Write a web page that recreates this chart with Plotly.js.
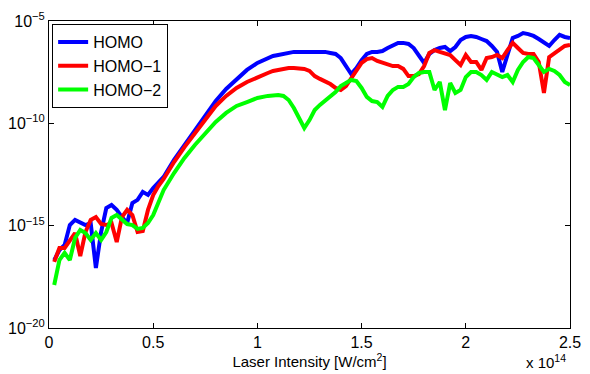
<!DOCTYPE html>
<html>
<head>
<meta charset="utf-8">
<script src="https://cdn.plot.ly/plotly-3.0.1.min.js"></script>
<style>html,body{margin:0;padding:0;background:#fff;}#chart{width:590px;height:374px;}</style>
</head>
<body>
<div id="chart"></div>
<script>
// Laser intensity in units of 1e14 W/cm^2
var intensity = [0.025,0.05,0.075,0.1,0.125,0.15,0.175,0.2,0.225,0.25,0.275,0.3,0.325,0.35,0.375,0.4,0.425,0.45,0.475,0.5,0.525,0.55,
  0.6,0.65,0.7,0.75,0.8,0.85,0.9,0.95,1.0,1.05,
  1.075,1.1,1.125,1.15,1.175,1.2,1.225,1.25,1.275,1.3,1.325,1.35,1.375,1.4,1.425,1.45,1.475,1.5,1.525,1.55,1.575,1.6,1.625,1.65,1.675,1.7,1.725,1.75,1.775,1.8,1.825,1.85,1.875,1.9,1.925,1.95,1.975,2.0,2.025,2.05,2.075,2.1,2.125,2.15,2.175,2.2,2.225,2.25,2.275,2.3,2.325,2.35,2.375,2.4,2.425,2.45,2.475,2.5];

// log10 of ionization yield
var logHOMO = [-16.68,-16.19,-15.94,-14.97,-14.72,-14.87,-14.97,-14.87,-17.07,-15.31,-14.14,-13.99,-14.23,-14.58,-14.87,-13.89,-13.74,-13.35,-13.50,-13.16,-12.87,-12.62,
  -11.79,-11.06,-10.32,-9.64,-8.91,-8.32,-7.83,-7.39,-7.05,-6.81,
  -6.71,-6.66,-6.61,-6.56,-6.51,-6.51,-6.51,-6.51,-6.51,-6.51,-6.51,-6.56,-6.61,-6.81,-7.20,-7.59,-7.30,-6.91,-6.61,-6.51,-6.51,-6.47,-6.32,-6.17,-6.07,-6.07,-6.12,-6.32,-6.71,-7.05,-6.61,-6.42,-6.32,-6.27,-6.47,-6.27,-5.93,-5.78,-5.73,-5.78,-5.88,-5.98,-6.22,-6.51,-7.49,-6.66,-5.83,-5.73,-5.59,-5.64,-5.73,-5.88,-6.07,-6.22,-5.93,-5.68,-5.78,-5.83];

var logHOMO1 = [-16.77,-16.09,-16.09,-15.70,-15.36,-16.48,-15.31,-14.72,-14.58,-14.92,-14.97,-14.87,-15.80,-14.58,-14.23,-14.48,-15.31,-15.26,-14.23,-13.50,-13.06,-12.72,
  -11.89,-11.16,-10.47,-9.84,-9.15,-8.66,-8.27,-7.98,-7.74,-7.54,
  -7.44,-7.39,-7.34,-7.30,-7.30,-7.30,-7.34,-7.44,-7.69,-7.83,-7.93,-8.08,-8.27,-8.37,-8.18,-7.78,-7.39,-7.05,-6.86,-6.81,-6.95,-7.05,-7.15,-7.20,-7.20,-7.34,-7.69,-7.69,-7.59,-7.20,-6.56,-6.42,-6.51,-6.56,-6.66,-6.91,-7.15,-6.66,-7.00,-7.00,-7.39,-6.81,-6.76,-6.66,-6.81,-6.42,-6.07,-6.32,-6.56,-6.61,-6.61,-7.00,-8.52,-6.76,-6.56,-6.37,-6.22,-6.17];

var logHOMO2 = [-17.90,-16.68,-16.33,-16.68,-15.60,-15.21,-15.36,-15.70,-15.36,-15.70,-15.31,-14.62,-14.48,-14.72,-14.92,-14.97,-15.16,-15.11,-14.87,-14.48,-13.89,-13.26,
  -12.43,-11.69,-11.06,-10.47,-9.93,-9.49,-9.15,-8.96,-8.76,-8.66,
  -8.62,-8.62,-8.66,-8.86,-9.25,-9.74,-10.23,-9.84,-9.35,-9.10,-8.91,-8.71,-8.47,-8.18,-8.03,-7.88,-7.93,-8.27,-8.71,-8.91,-8.96,-9.20,-8.66,-8.37,-8.22,-8.22,-8.08,-7.74,-7.54,-7.49,-7.49,-8.37,-7.98,-9.35,-8.03,-8.52,-8.37,-7.74,-7.49,-7.49,-7.64,-7.88,-7.49,-7.64,-7.74,-7.64,-7.98,-7.39,-7.00,-6.76,-6.81,-7.15,-7.49,-7.34,-7.44,-7.64,-7.98,-8.13];

var seriesNames = ['HOMO','HOMO\u22121','HOMO\u22122'];
var seriesColors = ['#0000ff','#ff0000','#00ff00'];
var seriesLogs = [logHOMO, logHOMO1, logHOMO2];

var xTickVals = [0,0.5,1,1.5,2,2.5];
var xTickText = ['0','0.5','1','1.5','2','2.5'];
var yTickVals = [1e-20,1e-15,1e-10,1e-5];
var yTickText = ['10<sup>\u221220</sup>','10<sup>\u221215</sup>','10<sup>\u221210</sup>','10<sup>\u22125</sup>'];

var traces = seriesNames.map(function(name,i){
  return {
    x: intensity,
    y: seriesLogs[i].map(function(v){return Math.pow(10,v);}),
    type:'scatter', mode:'lines', name:name,
    line:{color:seriesColors[i], width:4}
  };
});

var fam = 'Liberation Sans, Arial, sans-serif';
var tickFont = {family:fam, size:16, color:'#000'};
var textFont = {family:fam, size:15, color:'#000'};
var layout = {
  width:590, height:374,
  margin:{l:49, r:20, t:21, b:46},
  paper_bgcolor:'#fff', plot_bgcolor:'#fff',
  font:textFont,
  showlegend:true,
  legend:{x:0.006, y:0.99, xanchor:'left', yanchor:'top', bgcolor:'#fff', bordercolor:'#000', borderwidth:1,
    font:{family:fam, size:16, color:'#000'}, tracegroupgap:0, itemwidth:30},
  xaxis:{range:[0,2.5], tickvals:xTickVals, ticktext:xTickText, ticks:'inside', ticklen:5, tickcolor:'#000',
    showline:true, linecolor:'#000', linewidth:1, mirror:'ticks', showgrid:false, zeroline:false,
    tickfont:tickFont, title:{text:'Laser Intensity [W/cm<sup>2</sup>]', font:textFont, standoff:1}},
  yaxis:{type:'log', range:[-20,-5], tickvals:yTickVals, ticktext:yTickText, ticks:'inside', ticklen:5, tickcolor:'#000',
    showline:true, linecolor:'#000', linewidth:1, mirror:'ticks', showgrid:false, zeroline:false,
    tickfont:tickFont},
  annotations:[{xref:'paper', yref:'paper', x:1.0, y:0, xanchor:'right', yanchor:'top', yshift:-22, xshift:-2,
    text:'x 10<sup>14</sup>', showarrow:false, font:textFont}]
};
Plotly.newPlot('chart', traces, layout, {displayModeBar:false, staticPlot:true});
</script>
</body>
</html>
